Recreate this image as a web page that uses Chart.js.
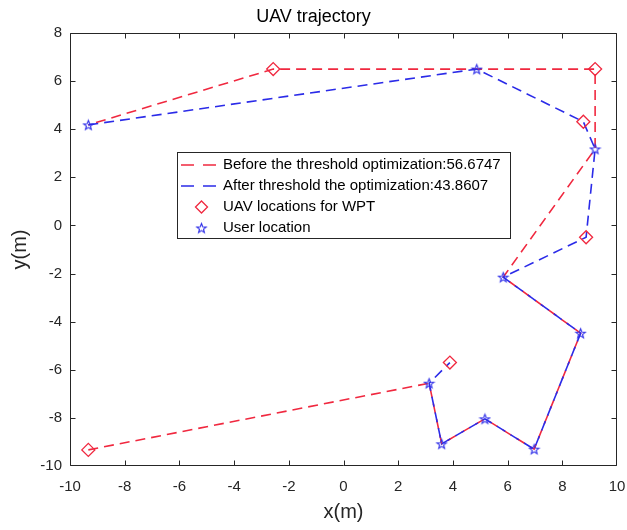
<!DOCTYPE html>
<html>
<head>
<meta charset="utf-8">
<script src="https://cdn.jsdelivr.net/npm/chart.js@4"></script>
<style>
  html, body { margin: 0; padding: 0; background: #fff; }
</style>
</head>
<body>
<canvas id="uavChart" width="627" height="530"></canvas>
<script>
// trajectory before threshold optimization
var beforeX = [-9.33, 3.13, 3.59, 5.17, 6.97, 8.67, 5.84, 9.20, 9.20, 4.87, -2.57, -9.33];
var beforeY = [-9.33, -6.56, -9.08, -8.04, -9.30, -4.48, -2.15, 3.18, 6.50, 6.50, 6.50, 4.18];
// trajectory after threshold optimization
var afterX = [-9.33, 4.87, 8.77, 9.20, 8.87, 5.84, 8.67, 6.97, 5.17, 3.59, 3.13, 3.89];
var afterY = [4.18, 6.50, 4.31, 3.18, -0.49, -2.15, -4.48, -9.30, -8.04, -9.08, -6.56, -5.70];
// UAV hover points for WPT
var uavX = [-2.57, 9.20, 8.77, 8.87, 3.89, -9.33];
var uavY = [6.50, 6.50, 4.31, -0.49, -5.70, -9.33];
// ground users
var userX = [-9.33, 4.87, 9.20, 5.84, 8.67, 6.97, 5.17, 3.59, 3.13];
var userY = [4.18, 6.50, 3.18, -2.15, -4.48, -9.30, -8.04, -9.08, -6.56];

var legendLabels = [
    'Before the threshold optimization:56.6747',
    'After threshold the optimization:43.8607',
    'UAV locations for WPT',
    'User location'
];

var RED = '#f0283f';
var BLUE = '#2b2be8';
var AXIS = '#262626';

function toPoints(xs, ys) {
    return xs.map(function (x, i) { return { x: x, y: ys[i] }; });
}

// pentagram marker
function makeStar(size, color) {
    var c = document.createElement('canvas');
    c.width = size; c.height = size;
    var g = c.getContext('2d');
    var cx = size / 2, cy = size / 2 + 0.5, ro = size / 2 - 1.5, ri = ro * 0.42;
    g.beginPath();
    for (var k = 0; k < 10; k++) {
        var r = k % 2 === 0 ? ro : ri;
        var ang = -Math.PI / 2 + k * Math.PI / 5;
        var px = cx + r * Math.cos(ang), py = cy + r * Math.sin(ang);
        if (k === 0) g.moveTo(px, py); else g.lineTo(px, py);
    }
    g.closePath();
    g.strokeStyle = color;
    g.lineWidth = 1.1;
    g.stroke();
    return c;
}
var starImg = makeStar(13, BLUE);

function drawDiamond(ctx, x, y, r) {
    ctx.beginPath();
    ctx.moveTo(x, y - r);
    ctx.lineTo(x + r, y);
    ctx.lineTo(x, y + r);
    ctx.lineTo(x - r, y);
    ctx.closePath();
    ctx.stroke();
}

var framePlugin = {
    id: 'frame',
    afterDraw: function (chart) {
        var ctx = chart.ctx;
        var xs = chart.scales.x, ys = chart.scales.y;
        // box edges taken from the axis ranges
        var l = Math.round(xs.getPixelForValue(xs.min)) + 0.5;
        var r = Math.round(xs.getPixelForValue(xs.max)) - 0.5;
        var t = Math.round(ys.getPixelForValue(ys.max)) + 0.5;
        var b = Math.round(ys.getPixelForValue(ys.min)) - 0.5;
        ctx.save();
        ctx.setLineDash([]);
        ctx.strokeStyle = AXIS;
        ctx.lineWidth = 1;

        ctx.beginPath();
        ctx.moveTo(l, t); ctx.lineTo(r, t);
        ctx.lineTo(r, b); ctx.lineTo(l, b);
        ctx.closePath();

        // inward ticks on all four sides
        xs.ticks.forEach(function (tk) {
            var px = Math.round(xs.getPixelForValue(tk.value)) + 0.5;
            if (tk.value === xs.max) px = r;
            ctx.moveTo(px, b); ctx.lineTo(px, b - 5);
            ctx.moveTo(px, t); ctx.lineTo(px, t + 5);
        });
        ys.ticks.forEach(function (tk) {
            var py = Math.round(ys.getPixelForValue(tk.value)) + 0.5;
            if (tk.value === ys.min) py = b;
            ctx.moveTo(l, py); ctx.lineTo(l + 5, py);
            ctx.moveTo(r, py); ctx.lineTo(r - 5, py);
        });
        ctx.stroke();

        // legend box
        var lx = 177.5, ly = 152.5, lw = 333, lh = 86;
        ctx.fillStyle = '#fff';
        ctx.fillRect(lx, ly, lw, lh);
        ctx.strokeRect(lx, ly, lw, lh);

        var rows = [165, 186, 207, 228];
        ctx.font = '15px "Liberation Sans", Arial, sans-serif';
        ctx.textBaseline = 'middle';
        ctx.textAlign = 'left';
        ctx.fillStyle = '#000';
        legendLabels.forEach(function (txt, i) {
            ctx.fillText(txt, 223, rows[i]);
        });

        ctx.lineWidth = 1.5;
        ctx.setLineDash([13, 9]);
        ctx.strokeStyle = RED;
        ctx.beginPath(); ctx.moveTo(181, rows[0]); ctx.lineTo(216, rows[0]); ctx.stroke();
        ctx.strokeStyle = BLUE;
        ctx.beginPath(); ctx.moveTo(181, rows[1]); ctx.lineTo(216, rows[1]); ctx.stroke();

        ctx.setLineDash([]);
        ctx.lineWidth = 1.3;
        ctx.strokeStyle = RED;
        drawDiamond(ctx, 201.5, rows[2], 6);
        ctx.drawImage(starImg, 201.5 - starImg.width / 2, rows[3] - starImg.height / 2);
        ctx.restore();
    }
};

var ctx = document.getElementById('uavChart').getContext('2d');

new Chart(ctx, {
    type: 'scatter',
    data: {
        datasets: [{
            label: legendLabels[2],
            data: toPoints(uavX, uavY),
            pointStyle: 'rectRot',
            pointRadius: 6.5,
            pointBorderWidth: 1.3,
            pointBorderColor: RED,
            pointBackgroundColor: 'rgba(0,0,0,0)',
            showLine: false,
            order: 0
        }, {
            label: legendLabels[3],
            data: toPoints(userX, userY),
            pointStyle: starImg,
            pointRadius: 7,
            showLine: false,
            order: 0
        }, {
            label: legendLabels[1],
            data: toPoints(afterX, afterY),
            showLine: true,
            borderColor: BLUE,
            borderWidth: 1.6,
            borderDash: [10, 6],
            pointRadius: 0,
            order: 1
        }, {
            label: legendLabels[0],
            data: toPoints(beforeX, beforeY),
            showLine: true,
            borderColor: RED,
            borderWidth: 1.6,
            borderDash: [10, 6],
            pointRadius: 0,
            order: 2
        }]
    },
    options: {
        responsive: false,
        animation: false,
        layout: { padding: { top: 0, right: 0, bottom: 0, left: 0 } },
        plugins: {
            legend: { display: false },
            tooltip: { enabled: false },
            title: {
                display: true,
                text: 'UAV trajectory',
                color: '#000',
                font: { family: '"Liberation Sans", Arial, sans-serif', size: 18, weight: 'normal' },
                padding: { top: 6, bottom: 5.4 }
            }
        },
        scales: {
            x: {
                type: 'linear',
                min: -10,
                max: 10,
                grid: { display: false, drawTicks: false },
                border: { display: false },
                ticks: {
                    stepSize: 2,
                    padding: 12,
                    color: AXIS,
                    font: { family: '"Liberation Sans", Arial, sans-serif', size: 15 }
                },
                title: {
                    display: true,
                    text: 'x(m)',
                    color: AXIS,
                    font: { family: '"Liberation Sans", Arial, sans-serif', size: 20 },
                    padding: { top: 0, bottom: 6 }
                },
                afterFit: function (scale) {
                    scale.height = 64;
                    scale.paddingLeft = 0;
                    scale.paddingRight = 10;
                }
            },
            y: {
                type: 'linear',
                min: -10,
                max: 8,
                grid: { display: false, drawTicks: false },
                border: { display: false },
                ticks: {
                    stepSize: 2,
                    padding: 8,
                    color: AXIS,
                    font: { family: '"Liberation Sans", Arial, sans-serif', size: 15 }
                },
                title: {
                    display: true,
                    text: 'y(m)',
                    color: AXIS,
                    font: { family: '"Liberation Sans", Arial, sans-serif', size: 20 },
                    padding: { top: 8, bottom: 0 }
                },
                afterFit: function (scale) { scale.width = 70; }
            }
        }
    },
    plugins: [framePlugin]
});
</script>
</body>
</html>
